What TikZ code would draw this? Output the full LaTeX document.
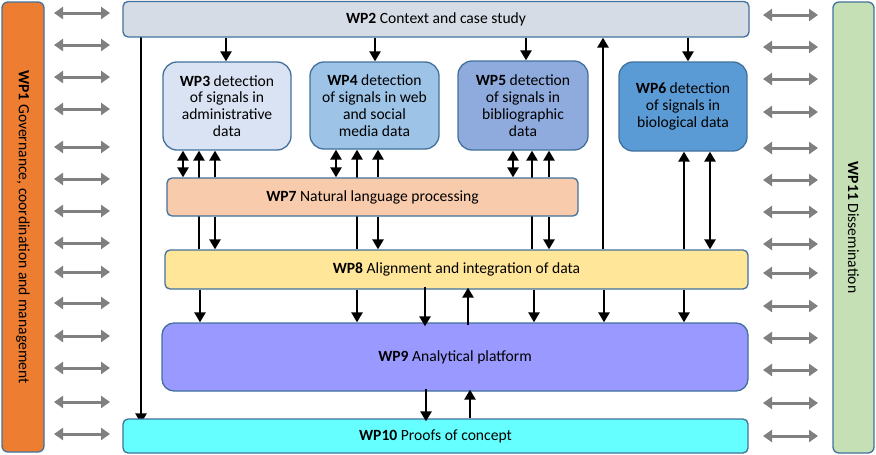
\documentclass[tikz,border=0pt]{standalone}
\usepackage{fontspec}
\setmainfont{Carlito}
\usetikzlibrary{arrows.meta,backgrounds,calc}
\definecolor{bordc}{HTML}{41719C}
\definecolor{cwpone}{HTML}{ED7D31}
\definecolor{cwpeleven}{HTML}{C5E0B4}
\definecolor{cwptwo}{HTML}{D6DCE5}
\definecolor{cwpthree}{HTML}{DAE3F3}
\definecolor{cwpfour}{HTML}{9DC3E6}
\definecolor{cwpfive}{HTML}{8FAADC}
\definecolor{cwpsix}{HTML}{5B9BD5}
\definecolor{cwpseven}{HTML}{F8CBAD}
\definecolor{cwpeight}{HTML}{FFE699}
\definecolor{cwpnine}{HTML}{9999FF}
\definecolor{cwpten}{HTML}{66FFFF}
\definecolor{greyarr}{HTML}{808080}
\tikzset{
  wpbox/.style={draw=bordc, line width=1.3pt, align=center, inner sep=0pt,
    font=\fontsize{15.6}{16.8}\selectfont},
  arr/.style={line width=2.7pt, -{Triangle[length=10pt,width=11pt]}},
  darr/.style={line width=2.7pt, {Triangle[length=10pt,width=11pt]}-{Triangle[length=10pt,width=11pt]}},
  garr/.style={draw=greyarr, line width=3pt, {Triangle[length=9pt,width=12pt]}-{Triangle[length=9pt,width=12pt]}}
}
\begin{document}
\begin{tikzpicture}[x=1pt,y=-1pt]
\useasboundingbox (0,0) rectangle (876,455);
% side boxes
\node[wpbox, fill=cwpone, rounded corners=6pt, minimum width=42pt, minimum height=450pt] (wp1) at (23,227) {};
\node[rotate=-90, font=\fontsize{15.6}{16.8}\selectfont] (wp1t) at (wp1.center) {\textbf{WP1} Governance, coordination and management};
\node[wpbox, fill=cwpeleven, rounded corners=6pt, minimum width=41pt, minimum height=451pt] (wp11) at (853.5,227.5) {};
\node[rotate=-90, font=\fontsize{15.6}{16.8}\selectfont] (wp11t) at (wp11.center) {\textbf{WP11} Dissemination};
% main boxes
\node[wpbox, fill=cwptwo, rounded corners=5pt, minimum width=626pt, minimum height=35.5pt] (wp2) at (436,19.2) {\textbf{WP2} Context and case study};
\node[wpbox, fill=cwpthree, rounded corners=14pt, minimum width=128pt, minimum height=88pt] (wp3) at (227,106) {\textbf{WP3} detection\\of signals in\\administrative\\data};
\node[wpbox, fill=cwpfour, rounded corners=14pt, minimum width=129pt, minimum height=87pt] (wp4) at (374.5,105.5) {\textbf{WP4} detection\\of signals in web\\and social\\media data};
\node[wpbox, fill=cwpfive, rounded corners=14pt, minimum width=130pt, minimum height=89pt] (wp5) at (523,105.5) {\textbf{WP5} detection\\of signals in\\bibliographic\\data};
\node[wpbox, fill=cwpsix, rounded corners=14pt, minimum width=128pt, minimum height=89pt] (wp6) at (683,106.5) {\textbf{WP6} detection\\of signals in\\biological data};
\node[wpbox, fill=cwpseven, rounded corners=5pt, minimum width=411pt, minimum height=38pt] (wp7) at (372.5,197) {\textbf{WP7} Natural language processing};
\node[wpbox, fill=cwpeight, rounded corners=5pt, minimum width=583pt, minimum height=39pt] (wp8) at (456.5,269.5) {\textbf{WP8} Alignment and integration of data};
\node[wpbox, fill=cwpnine, rounded corners=12pt, minimum width=586pt, minimum height=68pt] (wp9) at (455,357) {\textbf{WP9} Analytical platform};
\node[wpbox, fill=cwpten, rounded corners=5pt, minimum width=625pt, minimum height=34pt] (wp10) at (435.5,436) {\textbf{WP10} Proofs of concept};
% column coordinates
\foreach \n/\xx in {a/141,b/183,c/199,d/215,e/226,f/336,g/357,h/378,i/375,j/513,k/532,l/549,m/526,n/603,o/684,p/710,q/688,r/200,s/425,t/468,u/534,v/604,w/426,z/470}
  \coordinate (x\n) at (\xx,0);
% arrows passing behind boxes
\begin{pgfonlayer}{background}
\draw[arr] ($(wp2.south -| xa)+(0,-5)$) -- ($(wp10.north -| xa)+(0,5)$);
\draw[arr] (wp8.north -| xc) -- (wp3.south -| xc);
\draw[arr] (wp8.north -| xg) -- (wp4.south -| xg);
\draw[arr] (wp8.north -| xk) -- (wp5.south -| xk);
\end{pgfonlayer}
% WP2 to detection boxes
\draw[arr] (wp2.south -| xe) -- (wp3.north -| xe);
\draw[arr] (wp2.south -| xi) -- (wp4.north -| xi);
\draw[arr] (wp2.south -| xm) -- (wp5.north -| xm);
\draw[arr] (wp2.south -| xq) -- (wp6.north -| xq);
% WP7 with detection boxes
\draw[darr] (wp3.south -| xb) -- (wp7.north -| xb);
\draw[arr] (wp7.north -| xd) -- (wp3.south -| xd);
\draw[arr] (wp7.south -| xd) -- (wp8.north -| xd);
\draw[darr] (wp4.south -| xf) -- (wp7.north -| xf);
\draw[arr] (wp7.north -| xh) -- (wp4.south -| xh);
\draw[arr] (wp7.south -| xh) -- (wp8.north -| xh);
\draw[darr] (wp5.south -| xj) -- (wp7.north -| xj);
\draw[arr] (wp7.north -| xl) -- (wp5.south -| xl);
\draw[arr] (wp7.south -| xl) -- (wp8.north -| xl);
% WP8 up to WP2 and WP6
\draw[arr] (wp8.north -| xn) -- (wp2.south -| xn);
\draw[arr] (wp8.north -| xo) -- (wp6.south -| xo);
\draw[darr] (wp8.north -| xp) -- (wp6.south -| xp);
% WP8 to WP9
\draw[arr] (wp8.south -| xr) -- (wp9.north -| xr);
\draw[arr] (wp8.south -| xg) -- (wp9.north -| xg);
\draw[arr] ($(wp8.south -| xs)+(0,-3)$) -- ($(wp9.north -| xs)+(0,4)$);
\draw[arr] ($(wp9.north -| xt)+(0,3)$) -- ($(wp8.south -| xt)+(0,-2)$);
\draw[arr] (wp8.south -| xu) -- (wp9.north -| xu);
\draw[arr] (wp8.south -| xv) -- (wp9.north -| xv);
\draw[arr] (wp8.south -| xo) -- (wp9.north -| xo);
% WP9 to WP10
\draw[arr] ($(wp9.south -| xw)+(0,-3)$) -- ($(wp10.north -| xw)+(0,3)$);
\draw[arr] (wp10.north -| xz) -- ($(wp9.south -| xz)+(0,-2)$);
% grey arrows
\foreach \k/\yy in {1/13,2/45,3/77,4/109,5/147,6/179,7/211,8/243,9/272,10/303,11/336,12/368,13/402,14/434}{
  \coordinate (gl\k a) at (54,\yy);
  \coordinate (gl\k b) at (110,\yy);
  \draw[garr] (gl\k a) -- (gl\k b);
}
\foreach \k/\yy in {1/15,2/47,3/79,4/112,5/148,6/180,7/212,8/244,9/273,10/306,11/338,12/370,13/403,14/436}{
  \coordinate (gr\k a) at (763,\yy);
  \coordinate (gr\k b) at (818,\yy);
  \draw[garr] (gr\k a) -- (gr\k b);
}
\end{tikzpicture}
\end{document}
